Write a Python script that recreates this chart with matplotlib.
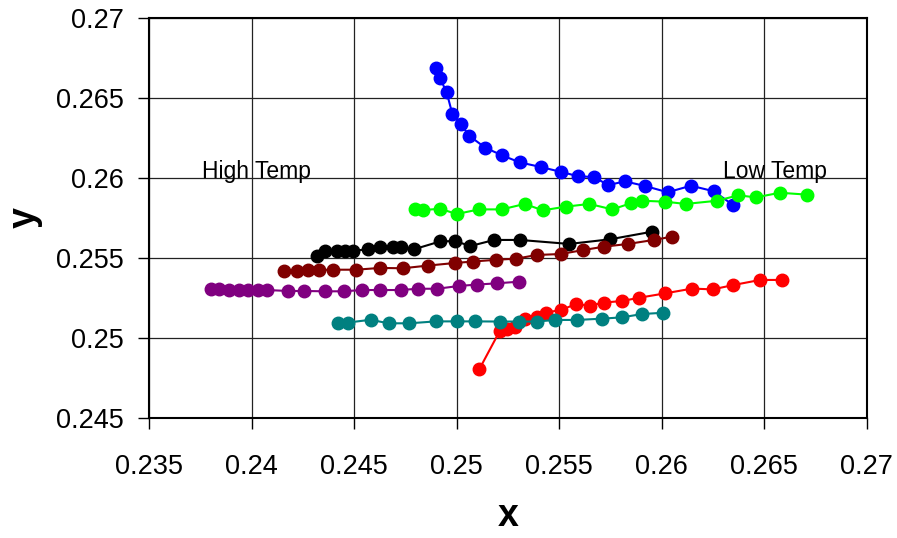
import matplotlib
matplotlib.use('Agg')
import matplotlib.pyplot as plt

plt.rcParams['font.family'] = ['Liberation Sans', 'DejaVu Sans']

# 각 계열 데이터
blue_x = [0.24898, 0.24919, 0.24951, 0.24979, 0.25020, 0.25061, 0.25140, 0.25221, 0.25307, 0.25410,
          0.25510, 0.25593, 0.25671, 0.25738, 0.25821, 0.25920, 0.26029, 0.26143, 0.26255, 0.26346]
blue_y = [0.26686, 0.26623, 0.26536, 0.26400, 0.26339, 0.26264, 0.26189, 0.26142, 0.26098, 0.26069,
          0.26038, 0.26011, 0.26006, 0.25956, 0.25979, 0.25950, 0.25911, 0.25952, 0.25917, 0.25833]

green_x = [0.24797, 0.24837, 0.24919, 0.25000, 0.25109, 0.25220, 0.25332, 0.25420, 0.25532, 0.25647,
           0.25759, 0.25849, 0.25905, 0.26018, 0.26117, 0.26270, 0.26374, 0.26459, 0.26577, 0.26710]
green_y = [0.25804, 0.25800, 0.25808, 0.25775, 0.25804, 0.25804, 0.25838, 0.25798, 0.25821, 0.25838,
           0.25804, 0.25842, 0.25858, 0.25852, 0.25838, 0.25858, 0.25892, 0.25879, 0.25908, 0.25896]

black_x = [0.24319, 0.24358, 0.24416, 0.24457, 0.24496, 0.24569, 0.24627, 0.24689, 0.24728, 0.24790,
           0.24920, 0.24992, 0.25067, 0.25183, 0.25309, 0.25549, 0.25748, 0.25951]
black_y = [0.25513, 0.25544, 0.25546, 0.25546, 0.25544, 0.25556, 0.25571, 0.25571, 0.25569, 0.25554,
           0.25604, 0.25606, 0.25575, 0.25613, 0.25613, 0.25588, 0.25617, 0.25664]

maroon_x = [0.24158, 0.24220, 0.24276, 0.24330, 0.24397, 0.24509, 0.24626, 0.24738, 0.24861, 0.24992,
            0.25078, 0.25192, 0.25291, 0.25390, 0.25507, 0.25618, 0.25719, 0.25836, 0.25961, 0.26049]
maroon_y = [0.25421, 0.25421, 0.25425, 0.25425, 0.25427, 0.25427, 0.25438, 0.25436, 0.25453, 0.25469,
            0.25478, 0.25489, 0.25496, 0.25519, 0.25525, 0.25550, 0.25571, 0.25588, 0.25613, 0.25633]

purple_x = [0.23800, 0.23842, 0.23888, 0.23940, 0.23983, 0.24032, 0.24073, 0.24179, 0.24257, 0.24358,
            0.24449, 0.24538, 0.24627, 0.24727, 0.24809, 0.24905, 0.25009, 0.25097, 0.25198, 0.25302]
purple_y = [0.25304, 0.25304, 0.25302, 0.25302, 0.25302, 0.25300, 0.25300, 0.25294, 0.25294, 0.25292,
            0.25292, 0.25300, 0.25300, 0.25300, 0.25308, 0.25308, 0.25325, 0.25334, 0.25342, 0.25352]

red_x = [0.25110, 0.25211, 0.25244, 0.25284, 0.25333, 0.25390, 0.25434, 0.25507, 0.25581, 0.25650,
         0.25720, 0.25805, 0.25891, 0.26016, 0.26149, 0.26249, 0.26349, 0.26480, 0.26588]
red_y = [0.24804, 0.25046, 0.25059, 0.25072, 0.25116, 0.25129, 0.25159, 0.25175, 0.25211, 0.25203,
         0.25222, 0.25231, 0.25252, 0.25279, 0.25309, 0.25304, 0.25331, 0.25363, 0.25363]

teal_x = [0.24422, 0.24471, 0.24580, 0.24668, 0.24769, 0.24898, 0.25004, 0.25090, 0.25211, 0.25304,
          0.25390, 0.25480, 0.25588, 0.25707, 0.25805, 0.25905, 0.26008]
teal_y = [0.25094, 0.25097, 0.25114, 0.25092, 0.25092, 0.25104, 0.25104, 0.25104, 0.25103, 0.25103,
          0.25103, 0.25113, 0.25113, 0.25121, 0.25129, 0.25150, 0.25158]

series = [
    (blue_x, blue_y, '#0000FF'),
    (green_x, green_y, '#00FF00'),
    (black_x, black_y, '#000000'),
    (maroon_x, maroon_y, '#800000'),
    (purple_x, purple_y, '#800080'),
    (red_x, red_y, '#FF0000'),
    (teal_x, teal_y, '#008080'),
]

fig = plt.figure(figsize=(8.97, 5.38), dpi=100)
ax = fig.add_axes([0.1663, 0.2230, 0.7999, 0.7435])

for sx, sy, c in series:
    ax.plot(sx, sy, color=c, linewidth=1.5, marker='o', markersize=9, zorder=3)

ax.set_xlim(0.235, 0.27)
ax.set_ylim(0.245, 0.27)
ax.set_xticks([0.235, 0.24, 0.245, 0.25, 0.255, 0.26, 0.265, 0.27])
ax.set_yticks([0.245, 0.25, 0.255, 0.26, 0.265, 0.27])
ax.set_xticklabels(['0.235', '0.24', '0.245', '0.25', '0.255', '0.26', '0.265', '0.27'])
ax.set_yticklabels(['0.245', '0.25', '0.255', '0.26', '0.265', '0.27'])

ax.grid(True, color='#222222', linewidth=0.9, zorder=0)
ax.set_axisbelow(True)
for s in ax.spines.values():
    s.set_linewidth(1.5)
ax.tick_params(direction='out', length=8, width=1, labelsize=19.5)
ax.tick_params(axis='x', pad=18)
ax.tick_params(axis='y', pad=10)

ax.set_xlabel('x', fontsize=27, fontweight='bold', labelpad=13)
ax.set_ylabel('y', fontsize=27, fontweight='bold', labelpad=10)

ax.text(0.23756, 0.26, 'High Temp', fontsize=16.5, ha='left', va='baseline')
ax.text(0.26300, 0.26, 'Low Temp', fontsize=16.5, ha='left', va='baseline')

fig.savefig('out.png', dpi=100)
